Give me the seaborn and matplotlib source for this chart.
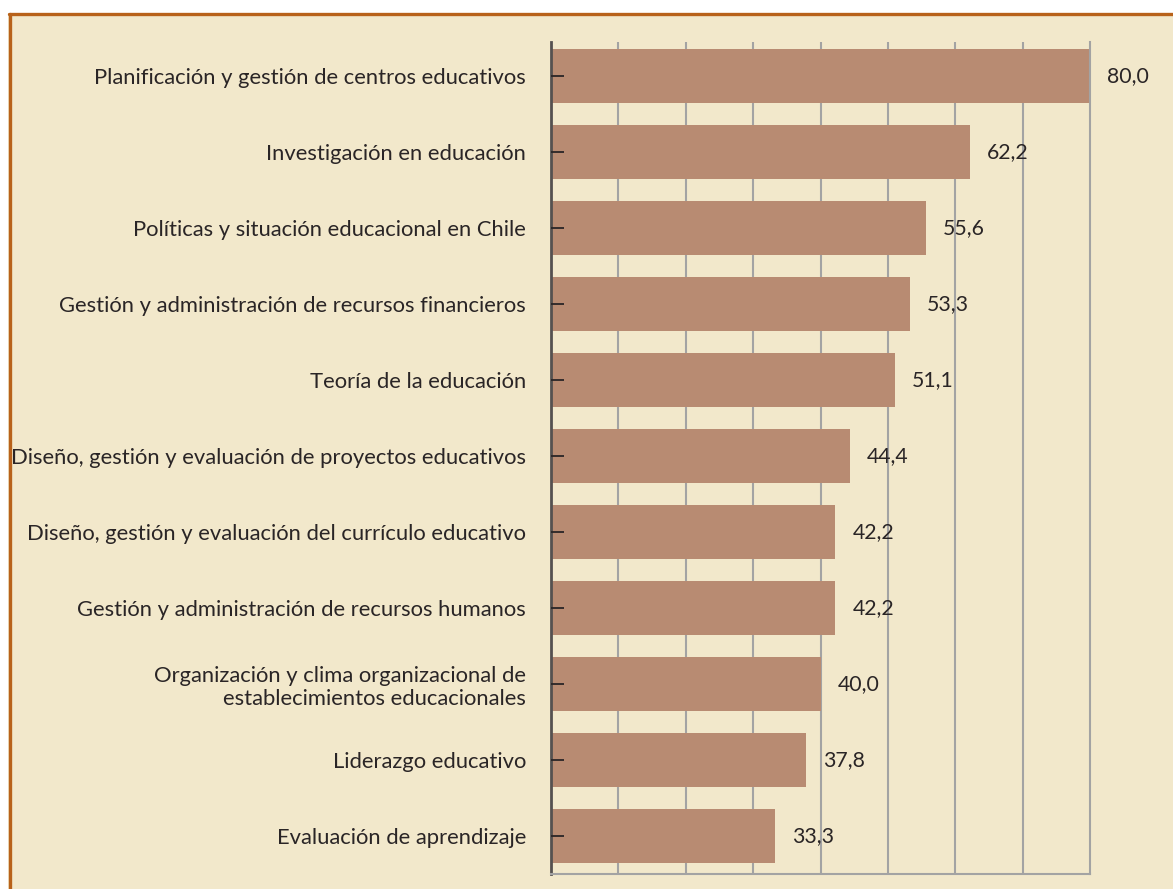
import numpy as np
import pandas as pd
import matplotlib
matplotlib.use("Agg")
import matplotlib.pyplot as plt
import seaborn as sns
from matplotlib.patches import Rectangle
from matplotlib.lines import Line2D

# chart data
categories = [
    "Planificación y gestión de centros educativos",
    "Investigación en educación",
    "Políticas y situación educacional en Chile",
    "Gestión y administración de recursos financieros",
    "Teoría de la educación",
    "Diseño, gestión y evaluación de proyectos educativos",
    "Diseño, gestión y evaluación del currículo educativo",
    "Gestión y administración de recursos humanos",
    "Organización y clima organizacional de\nestablecimientos educacionales",
    "Liderazgo educativo",
    "Evaluación de aprendizaje",
]
values = [80.0, 62.2, 55.6, 53.3, 51.1, 44.4, 42.2, 42.2, 40.0, 37.8, 33.3]

bg = "#f2e8cb"
bar_color = "#b88b72"
text_color = "#2a2526"
frame_color = "#b8621a"
grid_color = "#a3a3a3"

sns.set_theme(style="white")
plt.rcParams["font.family"] = ["Lato", "DejaVu Sans"]

df = pd.DataFrame({"categoria": categories, "valor": values})

fig = plt.figure(figsize=(11.73, 8.89), dpi=100, facecolor="white")

# beige panel with orange frame on top and left
fig.patches.append(Rectangle((8 / 1173, -0.1), 1.2, (889 - 13) / 889 + 0.1,
                             transform=fig.transFigure, facecolor=bg,
                             edgecolor="none", zorder=-2))
fig.lines.append(Line2D([8.5 / 1173, 1.0], [1 - 13.5 / 889, 1 - 13.5 / 889],
                        transform=fig.transFigure, color=frame_color, lw=2.4, zorder=-1))
fig.lines.append(Line2D([9.5 / 1173, 9.5 / 1173], [0, 1 - 13.5 / 889],
                        transform=fig.transFigure, color=frame_color, lw=2.4, zorder=-1))

ax = fig.add_axes([551 / 1173, 1 - 874 / 889, (1090 - 551) / 1173, (874 - 42) / 889])
ax.set_facecolor("none")

sns.barplot(data=df, x="valor", y="categoria", orient="h", color=bar_color,
            saturation=1, width=0.71, linewidth=0, ax=ax, zorder=2)

ax.set_xlim(0, 80)
ax.set_ylim(10.5, -0.45)
ax.set_xticks(np.arange(0, 81, 10))
ax.set_xticklabels([])
ax.tick_params(axis="x", length=0)
# grid below the bars, tick marks above them
for x in ax.get_xticks()[1:-1]:
    ax.axvline(x, color=grid_color, lw=1.5, zorder=1)
ax.set_axisbelow(False)
ax.set_xlabel("")
ax.set_ylabel("")

ax.tick_params(axis="y", direction="in", length=9.4, width=1.3, color=text_color,
               pad=18, labelsize=15.8, labelcolor=text_color, left=True)
for lab in ax.get_yticklabels():
    lab.set_horizontalalignment("right")
    lab.set_multialignment("right")

ax.spines["top"].set_visible(False)
ax.spines["left"].set_color("#555150")
ax.spines["left"].set_linewidth(2)
ax.spines["bottom"].set_color(grid_color)
ax.spines["bottom"].set_linewidth(1.5)
ax.spines["right"].set_color(grid_color)
ax.spines["right"].set_linewidth(1.5)

for i, v in enumerate(values):
    ax.annotate(f"{v:.1f}".replace(".", ","), xy=(v, i), xytext=(17, 0),
                textcoords="offset pixels", va="center", ha="left",
                fontsize=15.3, color=text_color, zorder=5)

fig.savefig("out.png", dpi=100, facecolor=fig.get_facecolor())
